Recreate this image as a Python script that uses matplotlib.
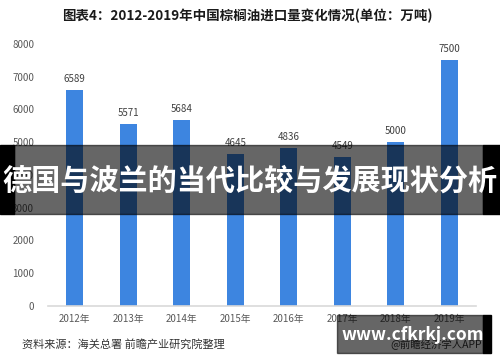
import matplotlib.pyplot as plt
from matplotlib.patches import Rectangle

plt.rcParams['font.family'] = ['Noto Sans CJK SC', 'DejaVu Sans']

# data
years = ['2012年', '2013年', '2014年', '2015年', '2016年', '2017年', '2018年', '2019年']
imports = [6589, 5571, 5684, 4645, 4836, 4549, 5000, 7500]
yticks = [0, 1000, 2000, 3000, 4000, 5000, 6000, 7000, 8000]

W, H = 500, 362
fig = plt.figure(figsize=(5, 3.62), dpi=100)
ax = fig.add_axes([48 / W, 56 / H, 428 / W, 262 / H])

x = range(len(years))
ax.bar(x, imports, width=0.32, color='#3d85e0', zorder=2)
for i, v in zip(x, imports):
    ax.text(i, v + 180, str(v), ha='center', va='bottom', fontsize=7, color='#404040')

ax.set_xlim(-0.5, 7.5)
ax.set_ylim(0, 8000)
ax.set_xticks(list(x))
ax.set_xticklabels(years, fontsize=7, color='#595959')
ax.set_yticks(yticks)
ax.set_yticklabels([str(t) for t in yticks], fontsize=7, color='#595959')
ax.tick_params(length=0, pad=10)
ax.tick_params(axis='x', pad=6)
for s in ['top', 'right', 'left']:
    ax.spines[s].set_visible(False)
ax.spines['bottom'].set_color('#d9d9d9')
ax.spines['bottom'].set_linewidth(1.2)

fig.text(247 / W, 1 - 16 / H, '图表4：2012-2019年中国棕榈油进口量变化情况(单位：万吨)',
         ha='center', va='center', fontsize=9.7, fontweight='bold', color='#1a1a1a')
fig.text(22 / W, 1 - 344 / H, '资料来源：海关总署 前瞻产业研究院整理',
         ha='left', va='center', fontsize=8, color='#333333')
fig.text(482 / W, 1 - 344 / H, '@前瞻经济学人APP',
         ha='right', va='center', fontsize=7.5, color='#333333')

# overlay banner
fig.patches.append(Rectangle((0, 1 - 214 / H), 14 / W, 69 / H, transform=fig.transFigure,
                             color='black', zorder=5))
fig.patches.append(Rectangle((483 / W, 1 - 214 / H), 17 / W, 69 / H, transform=fig.transFigure,
                             color='black', zorder=5))
fig.patches.append(Rectangle((14 / W, 1 - 214 / H), 469 / W, 69 / H, transform=fig.transFigure,
                             color='black', alpha=0.6, zorder=5))
fig.text(250 / W, 1 - 181 / H, '德国与波兰的当代比较与发展现状分析', ha='center', va='center',
         fontsize=21, fontweight='bold', color='white', zorder=6)

# bottom-right watermark box
fig.patches.append(Rectangle((337 / W, 1 - 353 / H), 146 / W, 38 / H, transform=fig.transFigure,
                             color='black', alpha=0.6, zorder=5))
fig.patches.append(Rectangle((483 / W, 1 - 353 / H), 8 / W, 38 / H, transform=fig.transFigure,
                             color='black', zorder=5))
fig.text(413 / W, 1 - 335 / H, 'www.cfkrkj.com', ha='center', va='center',
         fontsize=12.5, fontweight='bold', color='white', zorder=6)

fig.savefig('out.png', dpi=100)
